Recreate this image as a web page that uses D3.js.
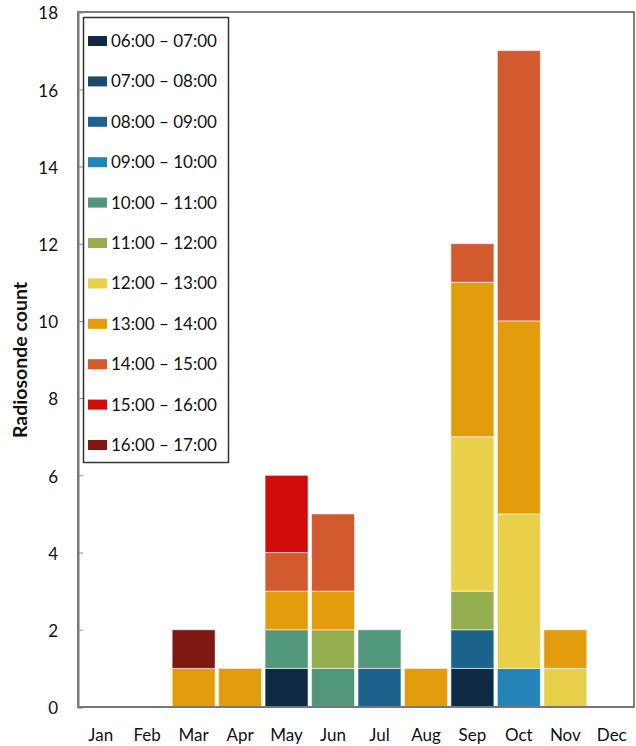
<!DOCTYPE html>
<html><head><meta charset="utf-8">
<script src="https://cdn.jsdelivr.net/npm/d3@7"></script>
<style>body{margin:0;background:#fff}svg{display:block}</style>
</head><body>
<svg id="chart" width="636" height="746"></svg>
<script>
const months = ["Jan","Feb","Mar","Apr","May","Jun","Jul","Aug","Sep","Oct","Nov","Dec"];
const slots = ["06:00 – 07:00","07:00 – 08:00","08:00 – 09:00","09:00 – 10:00","10:00 – 11:00","11:00 – 12:00","12:00 – 13:00","13:00 – 14:00","14:00 – 15:00","15:00 – 16:00","16:00 – 17:00"];
const colors = ["#0f2b44","#1a4a6c","#1c638c","#2484b8","#52977c","#95ae4f","#e9d04a","#e39d0c","#d35a2f","#d10b0b","#7f1810"];
// counts per slot, per month (Jan..Dec)
const s0600 = [0,0,0,0,1,0,0,0,1,0,0,0];
const s0700 = [0,0,0,0,0,0,0,0,0,0,0,0];
const s0800 = [0,0,0,0,0,0,1,0,1,0,0,0];
const s0900 = [0,0,0,0,0,0,0,0,0,1,0,0];
const s1000 = [0,0,0,0,1,1,1,0,0,0,0,0];
const s1100 = [0,0,0,0,0,1,0,0,1,0,0,0];
const s1200 = [0,0,0,0,0,0,0,0,4,4,1,0];
const s1300 = [0,0,1,1,1,1,0,1,4,5,1,0];
const s1400 = [0,0,0,0,1,2,0,0,1,7,0,0];
const s1500 = [0,0,0,0,2,0,0,0,0,0,0,0];
const s1600 = [0,0,1,0,0,0,0,0,0,0,0,0];
const yTicks = [0,2,4,6,8,10,12,14,16,18];

const series = [s0600,s0700,s0800,s0900,s1000,s1100,s1200,s1300,s1400,s1500,s1600];
const table = months.map((m,i)=>{const o={month:m}; slots.forEach((s,k)=>o[s]=series[k][i]); return o;});

const svg = d3.select("#chart");
const L=78, R=634, T=12, B=707;
const x = d3.scaleBand().domain(months).range([L-0.5,635]).paddingInner(0.075).paddingOuter(0.0375);
const y = d3.scaleLinear().domain([0,18]).range([B,T]);
const font = "Lato, 'Open Sans', sans-serif";

const stack = d3.stack().keys(slots)(table);
const color = d3.scaleOrdinal().domain(slots).range(colors);

// frame
svg.append("rect").attr("x",L).attr("y",T).attr("width",R-L).attr("height",B-T)
  .attr("fill","none").attr("stroke","#555").attr("stroke-width",1.5);

svg.append("g").selectAll("g").data(stack).join("g").attr("fill",d=>color(d.key))
  .selectAll("rect").data(d=>d.filter(p=>p[1]>p[0])).join("rect")
  .attr("x",d=>x(d.data.month)).attr("width",x.bandwidth())
  .attr("y",d=>y(d[1])).attr("height",d=>y(d[0])-y(d[1]))
  .attr("stroke","rgba(255,255,255,0.55)").attr("stroke-width",1);

// axes
const yAxis = svg.append("g").attr("transform",`translate(${L},0)`)
  .call(d3.axisLeft(y).tickValues(yTicks).tickSize(-5).tickPadding(20));
yAxis.select(".domain").attr("stroke","#777").attr("stroke-width",2);
yAxis.selectAll(".tick line").attr("stroke","#888").attr("stroke-width",1);
yAxis.selectAll("text").attr("font-family",font).attr("font-size",17).attr("fill","#111").attr("dy","0.4em");

const xAxis = svg.append("g").attr("transform",`translate(0,${B})`)
  .call(d3.axisBottom(x).tickSize(0).tickPadding(22));
xAxis.select(".domain").attr("stroke","#777").attr("stroke-width",2).attr("d",`M${L},0H${R}`);
xAxis.selectAll("text").attr("font-family",font).attr("font-size",17).attr("fill","#111");

svg.append("text").attr("transform",`translate(27,360) rotate(-90)`)
  .attr("text-anchor","middle").attr("font-family",font).attr("font-weight","bold")
  .attr("font-size",19.5).attr("fill","#111").text("Radiosonde count");

// legend
const lg = svg.append("g");
lg.append("rect").attr("x",83.5).attr("y",17.5).attr("width",145).attr("height",445)
  .attr("fill","#fff").attr("stroke","#333").attr("stroke-width",1.5);
const rows = lg.selectAll("g.row").data(slots).join("g").attr("class","row")
  .attr("transform",(d,i)=>`translate(88,${41+i*40.4})`);
rows.append("rect").attr("x",0).attr("y",-5).attr("width",19).attr("height",10).attr("fill",d=>color(d));
rows.append("text").attr("x",23).attr("y",6).attr("font-family",font).attr("font-size",17)
  .attr("fill","#111").text(d=>d);
</script>
</body></html>
